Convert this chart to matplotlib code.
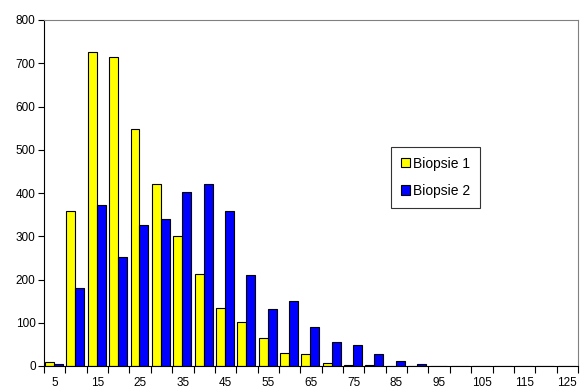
import matplotlib
matplotlib.use("Agg")
import matplotlib.pyplot as plt
import numpy as np

plt.rcParams['font.family'] = ['Liberation Sans', 'DejaVu Sans']

categories = [5, 10, 15, 20, 25, 30, 35, 40, 45, 50, 55, 60, 65, 70, 75, 80, 85, 90,
              95, 100, 105, 110, 115, 120, 125]
biopsie1 = [10, 358, 725, 715, 547, 421, 301, 213, 135, 102, 65, 30, 27, 8, 3, 2, 0, 0,
            0, 0, 0, 0, 0, 0, 0]
biopsie2 = [5, 181, 373, 251, 326, 341, 403, 421, 359, 211, 131, 151, 91, 56, 49, 28, 12, 5,
            0, 0, 0, 0, 0, 0, 0]
series_names = ["Biopsie 1", "Biopsie 2"]
y_ticks = [0, 100, 200, 300, 400, 500, 600, 700, 800]

fig = plt.figure(figsize=(5.8, 3.89), dpi=100)
ax = fig.add_axes([44/580, 23/389, 534/580, 346/389])

x = np.arange(len(categories))
w = 0.42
ax.bar(x - w/2 - 0.03, biopsie1, width=w, color="#FFFF00", edgecolor="black",
       linewidth=0.8, label=series_names[0])
ax.bar(x + w/2 - 0.03, biopsie2, width=w, color="#0000FF", edgecolor="black",
       linewidth=0.8, label=series_names[1])

ax.set_xlim(-0.5, len(categories) - 0.5)
ax.set_ylim(0, 800)
ax.set_yticks(y_ticks)
ax.set_yticklabels([str(v) for v in y_ticks], fontsize=8.5)

# major ticks at category boundaries (no labels), labels at every other category center
ax.set_xticks(np.arange(len(categories) + 1) - 0.5)
ax.set_xticklabels([])
ax.set_xticks(x[::2], minor=True)
ax.set_xticklabels([str(c) for c in categories[::2]], minor=True, fontsize=8.5)
ax.tick_params(axis='x', which='minor', length=0, pad=8)
ax.tick_params(axis='x', which='major', length=5, width=0.8, direction='out')
ax.tick_params(axis='y', length=4, width=0.8, direction='out', pad=2)

for s in ['left', 'bottom']:
    ax.spines[s].set_color('black')
    ax.spines[s].set_linewidth(0.8)
for s in ['top', 'right']:
    ax.spines[s].set_color('#808080')
    ax.spines[s].set_linewidth(0.8)

leg = ax.legend(loc='upper left', bbox_to_anchor=(0.65, 0.633), fontsize=10,
                frameon=True, fancybox=False, shadow=False, handlelength=0.65,
                handleheight=0.65, handletextpad=0.25, borderpad=0.7, labelspacing=0.95,
                borderaxespad=0)
leg.get_frame().set_edgecolor('black')
leg.get_frame().set_linewidth(0.8)

fig.savefig("out.png", dpi=100)
